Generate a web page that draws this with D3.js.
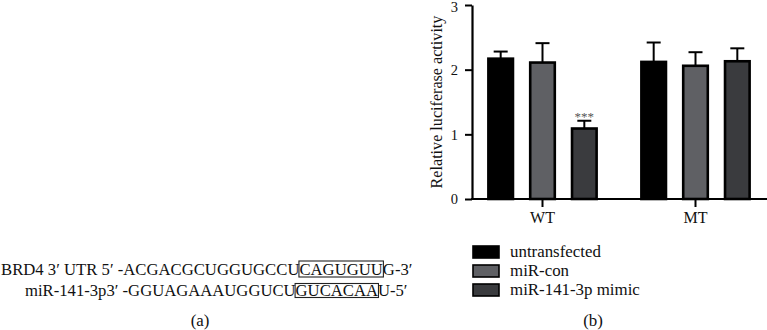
<!DOCTYPE html>
<html><head><meta charset="utf-8">
<script src="https://cdn.jsdelivr.net/npm/d3@7"></script>
<style>
html,body{margin:0;padding:0;background:#fff;}
svg{display:block;font-family:"Liberation Serif","DejaVu Serif",serif;}
</style></head>
<body>
<svg id="c" width="767" height="330"></svg>
<script>
// ---- data ----
const categories = ["WT", "MT"];
const series = ["untransfected", "miR-con", "miR-141-3p mimic"];
const untransfected = [2.17, 2.12];
const miRcon = [2.11, 2.06];
const mimic = [1.09, 2.13];
const untransfectedErr = [0.11, 0.30];
const miRconErr = [0.30, 0.21];
const mimicErr = [0.12, 0.20];
const yTicks = [0, 1, 2, 3];
const significance = [["WT", "miR-141-3p mimic", "***"]];
const seqLine1 = ["BRD4 3\u2032 UTR 5\u2032 -ACGACGCUGGUGCCU", "CAGUGUU", "G-3\u2032"];
const seqLine2 = ["miR-141-3p3\u2032 -GGUAGAAAUGGUCU", "GUCACAA", "U-5\u2032"];
const panelLabels = ["(a)", "(b)"];

const values = [untransfected, miRcon, mimic];
const errors = [untransfectedErr, miRconErr, mimicErr];
const fills = ["#000000", "#5f6064", "#3a3b3e"];
const FF = "Liberation Serif";

const svg = d3.select("#c");

// measure helper: font size so that text spans target width
function fitSize(str, target) {
  const t = svg.append("text").attr("font-family", FF).attr("font-size", 20).text(str);
  const w = t.node().getComputedTextLength();
  t.remove();
  return 20 * target / w;
}
const fsLegend = fitSize("untransfected", 91);
const fsYLab = fitSize("Relative luciferase activity", 173);
const fsTick = 14.5;
const fsCat = 16;

// ---- scales ----
const axisX = 472;
const y = d3.scaleLinear().domain([0, 3]).range([199, 5]);
const x0 = d3.scaleBand().domain(categories).range([466, 772]).padding(0);
const x1 = d3.scaleBand().domain(series)
  .range([x0.bandwidth() * 0.09, x0.bandwidth() * 0.91])
  .paddingInner(0.35).paddingOuter(0.175);

// ---- bars ----
const data = [];
categories.forEach((c, ci) => series.forEach((s, si) => {
  data.push({c, s, si, v: values[si][ci], e: errors[si][ci]});
}));

const g = svg.append("g");
const bw = x1.bandwidth();
const sw = 2.6;
g.selectAll("rect.bar").data(data).join("rect")
  .attr("class", "bar")
  .attr("x", d => x0(d.c) + x1(d.s) + sw / 2)
  .attr("width", bw - sw)
  .attr("y", d => y(d.v))
  .attr("height", d => y(0) - y(d.v))
  .attr("fill", d => fills[d.si])
  .attr("stroke", "#000").attr("stroke-width", sw);

// error bars (upper only)
const eb = g.selectAll("g.err").data(data).join("g").attr("class", "err");
eb.append("line")
  .attr("x1", d => x0(d.c) + x1(d.s) + bw / 2)
  .attr("x2", d => x0(d.c) + x1(d.s) + bw / 2)
  .attr("y1", d => y(d.v))
  .attr("y2", d => y(d.v + d.e))
  .attr("stroke", "#000").attr("stroke-width", 2);
eb.append("line")
  .attr("x1", d => x0(d.c) + x1(d.s) + bw / 2 - 7)
  .attr("x2", d => x0(d.c) + x1(d.s) + bw / 2 + 7)
  .attr("y1", d => y(d.v + d.e))
  .attr("y2", d => y(d.v + d.e))
  .attr("stroke", "#000").attr("stroke-width", 2);

// significance
significance.forEach(([c, s, t]) => {
  const d = data.find(o => o.c === c && o.s === s);
  svg.append("text")
    .attr("x", x0(c) + x1(s) + bw / 2)
    .attr("y", y(d.v + d.e) + 0.5)
    .attr("text-anchor", "middle")
    .attr("font-family", FF)
    .attr("font-size", 13).attr("fill", "#555")
    .text(t);
});

// ---- axes ----
const yAxis = d3.axisLeft(y).tickValues(yTicks).tickFormat(d3.format("d"))
  .tickSize(7).tickSizeOuter(0).tickPadding(7);
const ya = svg.append("g").attr("transform", `translate(${axisX},0)`).call(yAxis);
ya.selectAll("path.domain").attr("stroke", "#000").attr("stroke-width", 2.2);
ya.selectAll(".tick line").attr("stroke", "#000").attr("stroke-width", 2);
ya.selectAll(".tick text").attr("font-size", fsTick).attr("fill", "#111")
  .attr("font-family", FF).attr("dy", d => d === 3 ? "0.42em" : "0.34em");

const xAxis = d3.axisBottom(x0).tickSize(8).tickSizeOuter(0).tickPadding(5);
const xa = svg.append("g").attr("transform", `translate(0,${y(0)})`).call(xAxis);
xa.select("path.domain").remove();
xa.selectAll(".tick line").attr("stroke", "#000").attr("stroke-width", 2);
xa.selectAll(".tick text").attr("font-size", fsCat).attr("fill", "#111")
  .attr("font-family", FF);
svg.append("line").attr("x1", axisX - 1).attr("x2", 767)
  .attr("y1", y(0)).attr("y2", y(0))
  .attr("stroke", "#000").attr("stroke-width", 2.2);

// y label
svg.append("text")
  .attr("transform", `translate(442,${(y(0) + y(3)) / 2}) rotate(-90)`)
  .attr("text-anchor", "middle")
  .attr("font-family", FF)
  .attr("font-size", fsYLab).attr("fill", "#111")
  .text("Relative luciferase activity");

// ---- legend ----
const lg = svg.append("g").attr("transform", "translate(473,246)");
series.forEach((s, i) => {
  lg.append("rect").attr("x", 0).attr("y", i * 19).attr("width", 26).attr("height", 12)
    .attr("fill", fills[i]).attr("stroke", "#000").attr("stroke-width", 1.6);
  lg.append("text").attr("x", 37).attr("y", i * 19 + 11)
    .attr("font-family", FF)
    .attr("font-size", fsLegend).attr("fill", "#111").text(s);
});

// ---- sequence panel (a) ----
function seqLine(parts, xLeft, baseline, targetW, boxTop, boxBot) {
  const t = svg.append("text").attr("x", xLeft).attr("y", baseline)
    .attr("font-family", FF)
    .attr("font-size", 16).attr("fill", "#111").text(parts.join(""));
  const w = t.node().getComputedTextLength();
  const fs = 16 * targetW / w;
  t.attr("font-size", fs);
  const node = t.node();
  const a = node.getSubStringLength(0, parts[0].length);
  const b = node.getSubStringLength(parts[0].length, parts[1].length);
  svg.append("rect").attr("x", xLeft + a - 0.5).attr("y", boxTop)
    .attr("width", b + 1).attr("height", boxBot - boxTop)
    .attr("fill", "none").attr("stroke", "#222").attr("stroke-width", 1.1);
}
seqLine(seqLine1, 1, 275, 412, 261, 277);
seqLine(seqLine2, 25, 296, 383, 283.5, 297.5);

svg.append("text").attr("x", 200).attr("y", 326).attr("text-anchor", "middle")
  .attr("font-family", FF)
  .attr("font-size", fsLegend).attr("fill", "#111").text(panelLabels[0]);
svg.append("text").attr("x", 593).attr("y", 326).attr("text-anchor", "middle")
  .attr("font-family", FF)
  .attr("font-size", fsLegend).attr("fill", "#111").text(panelLabels[1]);
</script>
</body></html>
